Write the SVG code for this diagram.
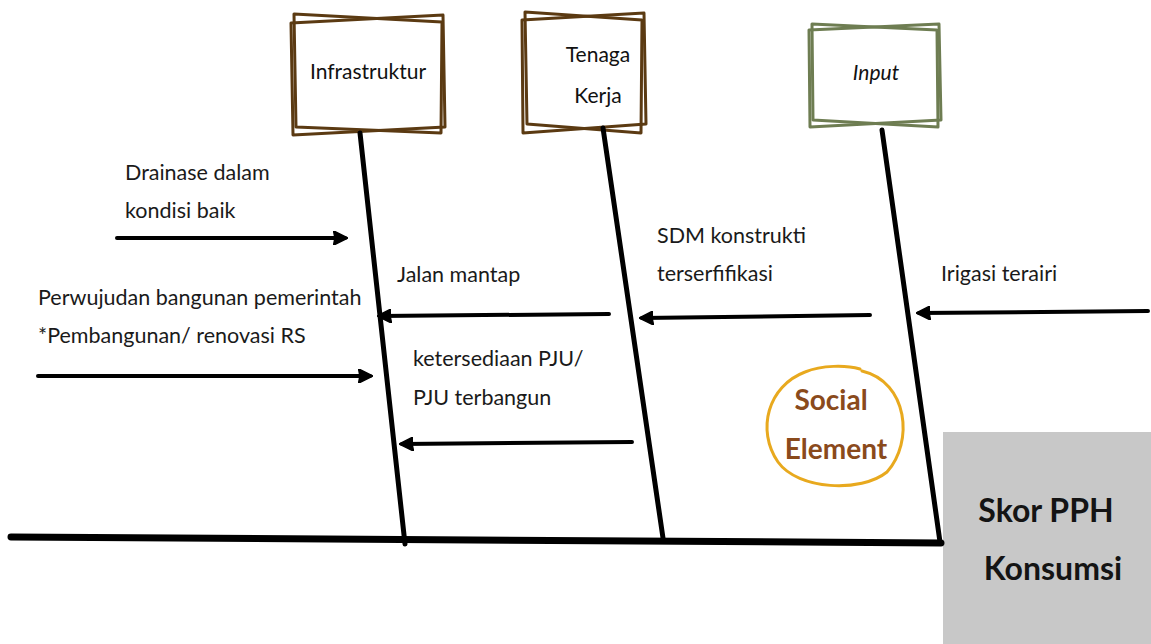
<svg xmlns="http://www.w3.org/2000/svg" width="1151" height="644" viewBox="0 0 1151 644">
  <defs>
    <marker id="arrow" viewBox="0 0 10 10" refX="8" refY="5" markerWidth="3.6" markerHeight="3.6" orient="auto" markerUnits="strokeWidth">
      <path d="M0,0 L10,5 L0,10 L1,5 Z" fill="#000" stroke="#000" stroke-width="1" stroke-linejoin="round"/>
    </marker>
  </defs>
  <style>
    .bone { stroke: #000; stroke-width: 5; stroke-linecap: round; fill: none; }
    .spine { stroke: #000; stroke-width: 7; stroke-linecap: round; fill: none; }
    .conn { stroke: #000; stroke-width: 4; stroke-linecap: round; fill: none; marker-end: url(#arrow); }
    .frame-brown { fill: none; stroke: #5b3a12; stroke-width: 3; stroke-linejoin: round; }
    .frame-green { fill: none; stroke: #6e7d52; stroke-width: 3; stroke-linejoin: round; }
    .label { font-family: Lato, "Liberation Sans", sans-serif; font-size: 21.5px; fill: #1a1a1a; }
    .title { font-family: Lato, "Liberation Sans", sans-serif; font-size: 21px; fill: #111; text-anchor: middle; }
    .social { font-family: Lato, "Liberation Sans", sans-serif; font-size: 28px; font-weight: bold; fill: #8a4a1c; text-anchor: middle; }
    .result { font-family: Lato, "Liberation Sans", sans-serif; font-size: 32px; font-weight: bold; fill: #141414; text-anchor: middle; }
  </style>

  <!-- head of the fishbone -->
  <g id="node-skor">
    <rect x="943" y="432" width="208" height="212" fill="#c8c8c8"/>
    <text class="result" x="1046" y="522">Skor PPH</text>
    <text class="result" x="1053" y="580">Konsumsi</text>
  </g>

  <!-- category boxes, drawn as two overlapping sketch frames -->
  <g id="node-infrastruktur">
    <polygon class="frame-brown" points="294,14 442,22 441,133 296,127"/>
    <polygon class="frame-brown" points="291,23 443,15 445,127 293,135"/>
    <text class="title" x="368" y="79">Infrastruktur</text>
  </g>
  <g id="node-tenaga-kerja">
    <polygon class="frame-brown" points="525,12 642,20 641,133 527,124"/>
    <polygon class="frame-brown" points="522,20 644,13 646,124 523,133"/>
    <text class="title" x="598" y="62">Tenaga</text>
    <text class="title" x="598" y="103">Kerja</text>
  </g>
  <g id="node-input">
    <polygon class="frame-green" points="812,24 937,30 938,127 813,120"/>
    <polygon class="frame-green" points="809,30 939,24 941,120 810,127"/>
    <text class="title" x="876" y="80" font-style="italic">Input</text>
  </g>

  <g id="node-social-element">
    <path d="M862,371 C908,382 914,442 887,472 C861,493 798,490 778,462 C756,430 768,386 805,372 C822,365 846,365 860,369" fill="none" stroke="#e8a91e" stroke-width="3" stroke-linecap="round"/>
    <text class="social" x="831" y="410">Social</text>
    <text class="social" x="836" y="459">Element</text>
  </g>

  <!-- cause labels -->
  <g id="node-drainase">
    <text class="label" x="125" y="180">Drainase dalam</text>
    <text class="label" x="125" y="218">kondisi baik</text>
  </g>
  <g id="node-perwujudan">
    <text class="label" x="38" y="305">Perwujudan bangunan pemerintah</text>
    <text class="label" x="38" y="343">*Pembangunan/ renovasi RS</text>
  </g>
  <g id="node-jalan">
    <text class="label" x="397" y="282">Jalan mantap</text>
  </g>
  <g id="node-pju">
    <text class="label" x="413" y="366">ketersediaan PJU/</text>
    <text class="label" x="413" y="405">PJU terbangun</text>
  </g>
  <g id="node-sdm">
    <text class="label" x="657" y="243">SDM konstrukti</text>
    <text class="label" x="657" y="281">terserfifikasi</text>
  </g>
  <g id="node-irigasi">
    <text class="label" x="941" y="281">Irigasi terairi</text>
  </g>

  <!-- spine, bones and cause arrows -->
  <g id="connectors">
    <line class="spine" x1="11" y1="537" x2="941" y2="543"/>
    <line class="bone" x1="360" y1="133" x2="405" y2="544"/>
    <line class="bone" x1="603" y1="128" x2="663" y2="538"/>
    <line class="bone" x1="882" y1="130" x2="940" y2="542"/>
    <line class="conn" x1="117" y1="238" x2="345" y2="238"/>
    <line class="conn" x1="38" y1="376" x2="370" y2="376"/>
    <line class="conn" x1="609" y1="314" x2="380" y2="316"/>
    <line class="conn" x1="632" y1="442" x2="402" y2="444"/>
    <line class="conn" x1="870" y1="315" x2="642" y2="318"/>
    <line class="conn" x1="1148" y1="311" x2="919" y2="313"/>
  </g>
</svg>
